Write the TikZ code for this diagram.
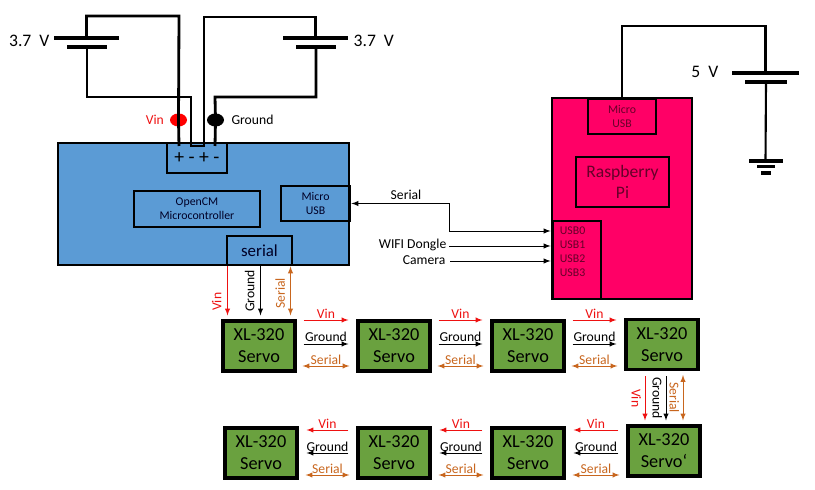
\documentclass[tikz,border=0pt]{standalone}
\usepackage{fontspec}
\setmainfont{Carlito}
\usetikzlibrary{calc,positioning,shapes.geometric}
\definecolor{boardblue}{HTML}{5B9BD5}
\definecolor{pipink}{HTML}{FF0066}
\definecolor{servogreen}{HTML}{6AA13F}
\definecolor{serialorange}{HTML}{C8661E}
\definecolor{vinred}{HTML}{EE1111}
\tikzset{
  size/.style 2 args={minimum width=#1*.025cm,minimum height=#2*.025cm},
  wire/.style={line width=2pt},
  thinwire/.style={line width=1.5pt},
  plate/.style={fill=black,inner sep=0pt,size={#1}{3.5}},
  box/.style={draw,line width=1.5pt,inner sep=0pt,align=center},
  servo/.style={box,fill=servogreen,line width=2.2pt,size={72}{50},font=\fontsize{13}{15.5}\selectfont},
  vinline/.style={-latex,vinred,line width=.7pt},
  gndline/.style={-latex,black,line width=.7pt},
  serline/.style={latex-latex,serialorange,line width=.7pt},
  lab/.style={inner sep=1pt,font=\fontsize{9.7}{12}\selectfont},
  small/.style={font=\fontsize{8.4}{10}\selectfont},
}
\begin{document}
\begin{tikzpicture}[x=.025cm,y=-.025cm]
\useasboundingbox (0,0) rectangle (815,490);

%boards
\node[box,fill=boardblue,size={291}{122}] (board) at (203.5,204) {};
\node[box,fill=pipink,size={140}{201}] (pi) at (622,198.5) {};

%opencm parts
\node[box,line width=1.6pt,size={60}{30},font=\fontsize{14}{14}\selectfont] (term) at (197,158) {+ - + -};
\node[box,small,line width=1.6pt,size={126}{36},text=black!85!blue] (opencm) at (197,209) {OpenCM\\Microcontroller};
\node[box,small,line width=2pt,size={69}{35},text=black!85!blue] (microusb) at (315.5,203.5) {Micro\\USB};
\node[box,line width=2pt,size={65}{29},text=black!85!blue,font=\fontsize{12}{14}\selectfont] (serialbox) at (259.5,250.5) {serial};

%pi parts
\node[box,small,line width=2pt,size={68}{35},text=pipink!40!black] (pimicro) at (622,116.5) {Micro\\USB};
\node[box,line width=2pt,size={93}{50},text=pipink!40!black,font=\fontsize{12.5}{15}\selectfont] (raspi) at (622.5,182) {Raspberry\\Pi};
\node[box,line width=2pt,size={48}{78}] (usbhub) at (577,260) {};
\node[small,inner sep=0pt,align=left,anchor=north west,text=pipink!40!black] (usblist) at ($(usbhub.north west)+(8,7)$) {USB0\\USB1\\USB2\\USB3};

%batteries
\node[plate=65] (batAhi) at (86.5,38) {};
\node[plate=40] (batAlo) at (87,47) {};
\node[plate=65] (batBhi) at (315.5,38) {};
\node[plate=40] (batBlo) at (316,47) {};
\node[plate=67] (batChi) at (765.5,73) {};
\node[plate=42] (batClo) at (766,82) {};
\node[lab,anchor=east,font=\fontsize{12.5}{15}\selectfont] (voltA) at (51,41) {3.7\ \ V};
\node[lab,anchor=west,font=\fontsize{12.5}{15}\selectfont] (voltB) at (352,41) {3.7\ \ V};
\node[lab,anchor=east,font=\fontsize{12.5}{15}\selectfont] (voltC) at (720,72) {5\ \ V};

%jacks
\node[ellipse,fill=red,inner sep=0pt,size={17}{13}] (jackvin) at (178.5,120) {};
\node[ellipse,fill=black,inner sep=0pt,size={17}{13}] (jackgnd) at (215.5,120) {};
\node[lab,text=vinred,left=3pt of jackvin] (vinlabel) {Vin};
\node[lab,right=4pt of jackgnd] (gndlabel) {Ground};

%battery wires
\coordinate (topA) at (179,16);
\coordinate (topB) at (204,17);
\coordinate (termA) at (179,146);
\coordinate (termB) at (191,146);
\coordinate (termC) at (204,146);
\coordinate (termD) at (215,146);
\coordinate (lowA) at (191,97);
\coordinate (lowB) at (215,97);
\draw[wire] (batAhi.center) |- (topA) -- (jackvin.center) -- (termA);
\draw[wire] (batAlo.center) |- (lowA) -- (termB) -- (termC) -- (topB) -| (batBhi.center);
\draw[wire] (batBlo.center) |- (lowB) -- (jackgnd.center) -- (termD);

%5v wires and ground
\coordinate (topC) at (622,26);
\node[plate=34] (gndA) at (765.5,161) {};
\node[plate=18] (gndB) at (766,166.5) {};
\node[plate=10] (gndC) at (766,173) {};
\draw[thinwire] (pimicro.north) -- (topC) -| (batChi.center);
\draw[thinwire] (batClo.center) -- (gndA.center);

%usb lines
\coordinate (serialbend) at (449,231);
\node[lab] (seriallabel) at (406,195) {Serial};
\node[lab,anchor=east] (wifi) at (448,245) {WIFI Dongle};
\node[lab,anchor=east] (camera) at (447,260) {Camera};
\draw[latex-latex,line width=.7pt] (microusb.east) -| (serialbend) -- ($(usbhub.west)+(-1,-29)$);
\draw[-latex,line width=.7pt] ($(wifi.east)+(1,1)$) -- ($(usbhub.west |- wifi.east)+(-1,1)$);
\draw[-latex,line width=.7pt] ($(camera.east)+(3,1)$) -- ($(usbhub.west |- camera.east)+(-1,1)$);

%servos
\foreach \name/\pos/\txt in {s1/{259,346}/Servo,s2/{394,346}/Servo,s3/{528,346}/Servo,s4/{662,344.5}/Servo,
    s5/{664,451}/Servo\symbol{96},s6/{528,453}/Servo,s7/{394,453}/Servo,s8/{261,453}/Servo}
  \node[servo] (\name) at (\pos) {XL-320\\\txt};

%board to first servo
\draw[vinline] ($(serialbox.south)+(-32,0)$) -- node[lab,inner ysep=4pt,pos=.72,rotate=90,anchor=south,text=vinred] (vinboard) {Vin} ($(serialbox.south |- s1.north)+(-32,-4)$);
\draw[gndline] ($(serialbox.south)+(1,0)$) -- node[lab,inner ysep=4pt,pos=.5,rotate=90,anchor=south] (gndboard) {Ground} ($(serialbox.south |- s1.north)+(1,-4)$);
\draw[serline] ($(serialbox.south)+(31,0)$) -- node[lab,inner ysep=3.5pt,pos=.55,rotate=90,anchor=south,text=serialorange] (serboard) {Serial} ($(serialbox.south |- s1.north)+(31,-4)$);

%top row, left to right
\foreach \a/\b in {s1/s2,s2/s3,s3/s4} {
  \draw[vinline] ($(\a.east)+(7,-26)$) -- node[lab,above,text=vinred] (vin\a) {Vin} ($(\a.east -| \b.west)+(-8,-26)$);
  \draw[gndline] ($(\a.east)+(7,-2)$) -- node[lab,above] (gnd\a) {Ground} ($(\a.east -| \b.west)+(-8,-2)$);
  \draw[serline] ($(\a.east)+(6,20)$) -- node[lab,above,yshift=-.4pt,text=serialorange] (ser\a) {Serial} ($(\a.east -| \b.west)+(-7,20)$);
}

%down to the lower row
\draw[vinline] ($(s4.south)+(-17,5)$) -- node[lab,inner ysep=2.5pt,rotate=-90,anchor=north,text=vinred] (vins4) {Vin} ($(s4.south |- s5.north)+(-17,-4)$);
\draw[gndline] ($(s4.south)+(4,5)$) -- node[lab,inner ysep=2.5pt,rotate=-90,anchor=north] (gnds4) {Ground} ($(s4.south |- s5.north)+(4,-4)$);
\draw[serline] ($(s4.south)+(21,4)$) -- node[lab,inner ysep=2.5pt,rotate=-90,anchor=north,text=serialorange] (sers4) {Serial} ($(s4.south |- s5.north)+(21,-4)$);

%lower row, right to left
\foreach \a/\b in {s5/s6,s6/s7,s7/s8} {
  \draw[vinline] ($(\a.west |- \b.east)+(-8,-23)$) -- node[lab,above,text=vinred] (vin\a) {Vin} ($(\b.east)+(8,-23)$);
  \draw[gndline] ($(\a.west |- \b.east)+(-8,0)$) -- node[lab,above] (gnd\a) {Ground} ($(\b.east)+(8,0)$);
  \draw[serline] ($(\a.west |- \b.east)+(-7,22)$) -- node[lab,above,yshift=-.4pt,text=serialorange] (ser\a) {Serial} ($(\b.east)+(7,22)$);
}

\end{tikzpicture}
\end{document}
